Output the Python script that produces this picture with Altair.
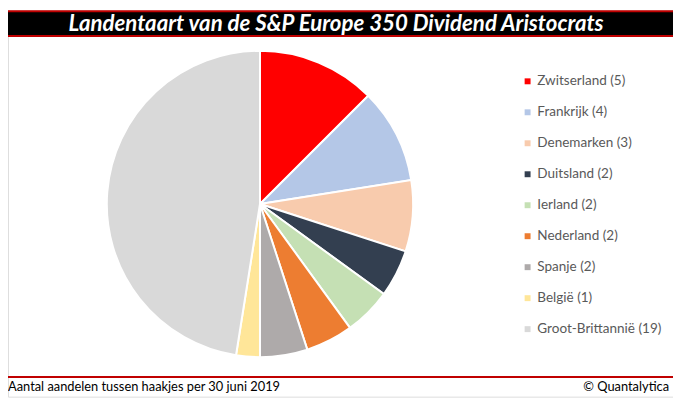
import altair as alt
import pandas as pd

countries = ["Zwitserland", "Frankrijk", "Denemarken", "Duitsland", "Ierland",
             "Nederland", "Spanje", "België", "Groot-Brittannië"]
counts = [5, 4, 3, 2, 2, 2, 2, 1, 19]
colors = ["#FF0000", "#B4C7E7", "#F8CBAD", "#333F50", "#C5E0B4",
          "#ED7D31", "#AEAAAA", "#FFE699", "#D9D9D9"]
title_text = "Landentaart van de S&P Europe 350 Dividend Aristocrats"
footer_left = "Aantal aandelen tussen haakjes per 30 juni 2019"
footer_right = "© Quantalytica"

labels = [f"{c} ({n})" for c, n in zip(countries, counts)]
df = pd.DataFrame({"label": labels, "count": counts, "idx": list(range(len(labels)))})
one = pd.DataFrame({"a": [0]})

W, H = 673, 391

red_bar = alt.Chart(one).mark_rect(color="#C00000").encode(
    x=alt.value(0), x2=alt.value(W), y=alt.value(0), y2=alt.value(27))
black_bar = alt.Chart(one).mark_rect(color="#000000").encode(
    x=alt.value(0), x2=alt.value(W), y=alt.value(2), y2=alt.value(25))
title = alt.Chart(one).mark_text(
    text=title_text, font="Lato", fontSize=22.5, fontWeight="bold", fontStyle="italic",
    color="white", align="center", baseline="middle").encode(
    x=alt.value(332), y=alt.value(13.5))

pie = alt.Chart(df).mark_arc(radius=155, stroke="white", strokeWidth=2).encode(
    theta=alt.Theta("count:Q", stack=True),
    color=alt.Color("label:N", sort=labels,
                    scale=alt.Scale(domain=labels, range=colors),
                    legend=alt.Legend(title=None, orient="none", legendX=519, legendY=65,
                                      padding=0, symbolType="square", symbolSize=36,
                                      symbolStrokeWidth=0, labelFont="Lato",
                                      labelFontSize=13.7, labelColor="#595959",
                                      rowPadding=16.35, labelOffset=3)),
    order=alt.Order("idx:Q"),
    x=alt.value(255), y=alt.value(196),
)

rule = alt.Chart(one).mark_rule(color="#C00000", strokeWidth=2).encode(
    x=alt.value(0), x2=alt.value(W), y=alt.value(371))
fl = alt.Chart(one).mark_text(text=footer_left, font="Lato", fontSize=13, color="#000000",
                              align="left", baseline="alphabetic").encode(
    x=alt.value(0), y=alt.value(385))
fr = alt.Chart(one).mark_text(text=footer_right, font="Lato", fontSize=13, color="#000000",
                              align="right", baseline="alphabetic").encode(
    x=alt.value(669), y=alt.value(385))

chart = alt.layer(red_bar, black_bar, title, pie, rule, fl, fr).properties(
    width=W, height=H, padding=0, autosize=alt.AutoSizeParams(type="none")
).configure_view(stroke=None).configure(background="white")

chart.save("out.html", embed_options={"renderer": "svg", "actions": False})
